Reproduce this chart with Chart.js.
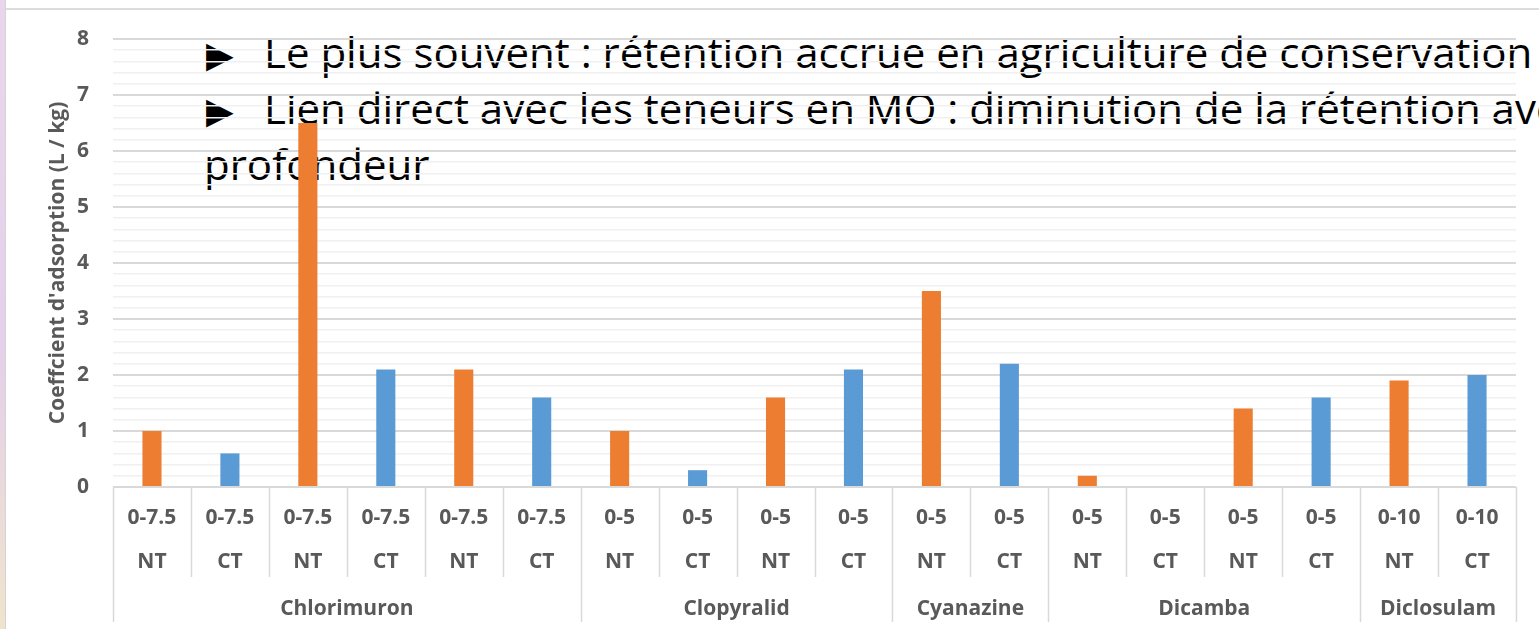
<!DOCTYPE html>
<html>
<head>
<meta charset="utf-8">
<script src="https://cdn.jsdelivr.net/npm/chart.js@4.4.1/dist/chart.umd.min.js"></script>
<style>
  body { margin: 0; width: 1539px; height: 629px; overflow: hidden; background: #fff; position: relative; font-family: "Open Sans", sans-serif; }
  #strip { position: absolute; left: 0; top: 0; width: 5px; height: 629px; background: linear-gradient(#e9d6ee, #e4d0ea 55%, #efe4cc); border-right: 1px solid #d4d4d4; }
  #topline { position: absolute; left: 6px; top: 8px; right: 0; height: 2px; background: #dcdcdc; }
  .note { position: absolute; font-size: 42px; line-height: 42px; color: #000; white-space: nowrap; }
  .arrow { position: absolute; font-family: "DejaVu Sans"; font-size: 36px; line-height: 36px; color: #000; }
  #wrap { position: absolute; left: 0; top: 0; width: 1539px; height: 629px; }
</style>
</head>
<body>
<div id="strip"></div>
<div id="topline"></div>
<div class="arrow" style="left:206px; top:37px">▶</div>
<div class="note" style="left:264px; top:31px">Le plus souvent : rétention accrue en agriculture de conservation</div>
<div class="arrow" style="left:206px; top:93px">▶</div>
<div class="note" style="left:264px; top:87px">Lien direct avec les teneurs en MO : diminution de la rétention avec la</div>
<div class="note" style="left:204px; top:143px">profondeur</div>
<div id="wrap"><canvas id="chart" width="1539" height="629"></canvas></div>

<script>
// depth (cm) and tillage of each bar, grouped by herbicide
const depths = ['0-7.5', '0-7.5', '0-7.5', '0-7.5', '0-7.5', '0-7.5',
                '0-5', '0-5', '0-5', '0-5', '0-5', '0-5', '0-5', '0-5', '0-5', '0-5',
                '0-10', '0-10']
const treatments = ['NT', 'CT', 'NT', 'CT', 'NT', 'CT', 'NT', 'CT', 'NT',
                    'CT', 'NT', 'CT', 'NT', 'CT', 'NT', 'CT', 'NT', 'CT']
const groups = ['Chlorimuron', 'Clopyralid', 'Cyanazine', 'Dicamba', 'Diclosulam']
const groupSizes = [6, 4, 2, 4, 2]

// adsorption coefficient (L / kg)
const ntValues = [1.0, null, 6.5, null, 2.1, null, 1.0, null, 1.6, null, 3.5, null, 0.2, null, 1.4, null, 1.9, null]
const ctValues = [null, 0.6, null, 2.1, null, 1.6, null, 0.3, null, 2.1, null, 2.2, null, 0, null, 1.6, null, 2.0]

const gray = '#595959'
const isInt = v => Math.abs(v - Math.round(v)) < 1e-6

// draws the three-row category table under the plot
const tablePlugin = {
    id: 'table',
    afterDraw(chart) {
        const ctx = chart.ctx
        const x = chart.scales.x
        const y0 = chart.chartArea.bottom
        const half = (x.getPixelForValue(1) - x.getPixelForValue(0)) / 2
        const bounds = [0]
        let n = 0
        for (const s of groupSizes) { n += s; bounds.push(n) }

        ctx.save()
        ctx.strokeStyle = '#d9d9d9'
        ctx.lineWidth = 1.5
        for (let i = 0; i <= depths.length; i++) {
            const px = Math.round(x.getPixelForValue(i) - half) + 0.5
            ctx.beginPath()
            ctx.moveTo(px, y0)
            ctx.lineTo(px, y0 + (bounds.includes(i) ? 135 : 90))
            ctx.stroke()
        }

        ctx.fillStyle = gray
        ctx.font = 'bold 21px "Open Sans"'
        ctx.textAlign = 'center'
        ctx.textBaseline = 'middle'
        depths.forEach((d, i) => ctx.fillText(d, x.getPixelForValue(i), y0 + 31))
        treatments.forEach((t, i) => ctx.fillText(t, x.getPixelForValue(i), y0 + 75))
        groups.forEach((g, k) => {
            const a = x.getPixelForValue(bounds[k]) - half
            const b = x.getPixelForValue(bounds[k + 1]) - half
            ctx.fillText(g, (a + b) / 2, y0 + 122)
        })
        ctx.restore()
    }
}

new Chart(document.getElementById('chart'), {
    type: 'bar',
    data: {
        labels: depths.map((d, i) => d + ' ' + treatments[i]),
        datasets: [
            { label: 'NT', data: ntValues, backgroundColor: '#ED7D31' },
            { label: 'CT', data: ctValues, backgroundColor: '#5B9BD5' }
        ]
    },
    options: {
        responsive: false,
        animation: false,
        grouped: false,
        barPercentage: 0.245,
        categoryPercentage: 1,
        layout: { padding: { left: 15, right: 23, top: 39, bottom: 0 } },
        plugins: { legend: { display: false }, tooltip: { enabled: false } },
        scales: {
            x: {
                ticks: { display: false },
                grid: { display: false },
                border: { display: false },
                afterFit: s => { s.height = 142 }
            },
            y: {
                min: 0,
                max: 8,
                ticks: {
                    stepSize: 0.2,
                    autoSkip: false,
                    padding: 24,
                    color: gray,
                    font: { family: 'Open Sans', size: 21, weight: 'bold' },
                    callback: v => isInt(v) ? Math.round(v) : ''
                },
                grid: {
                    drawTicks: false,
                    color: c => isInt(c.tick.value) ? '#d9d9d9' : '#f0f0f0',
                    lineWidth: c => isInt(c.tick.value) ? 2 : 1.5
                },
                border: { display: false },
                title: {
                    display: true,
                    text: "Coeffcient d'adsorption (L / kg)",
                    color: gray,
                    font: { family: 'Open Sans', size: 21, weight: 'bold' },
                    padding: { top: 30, bottom: 0 }
                },
                afterFit: s => { s.width = 98 }
            }
        }
    },
    plugins: [tablePlugin]
})
</script>
</body>
</html>
